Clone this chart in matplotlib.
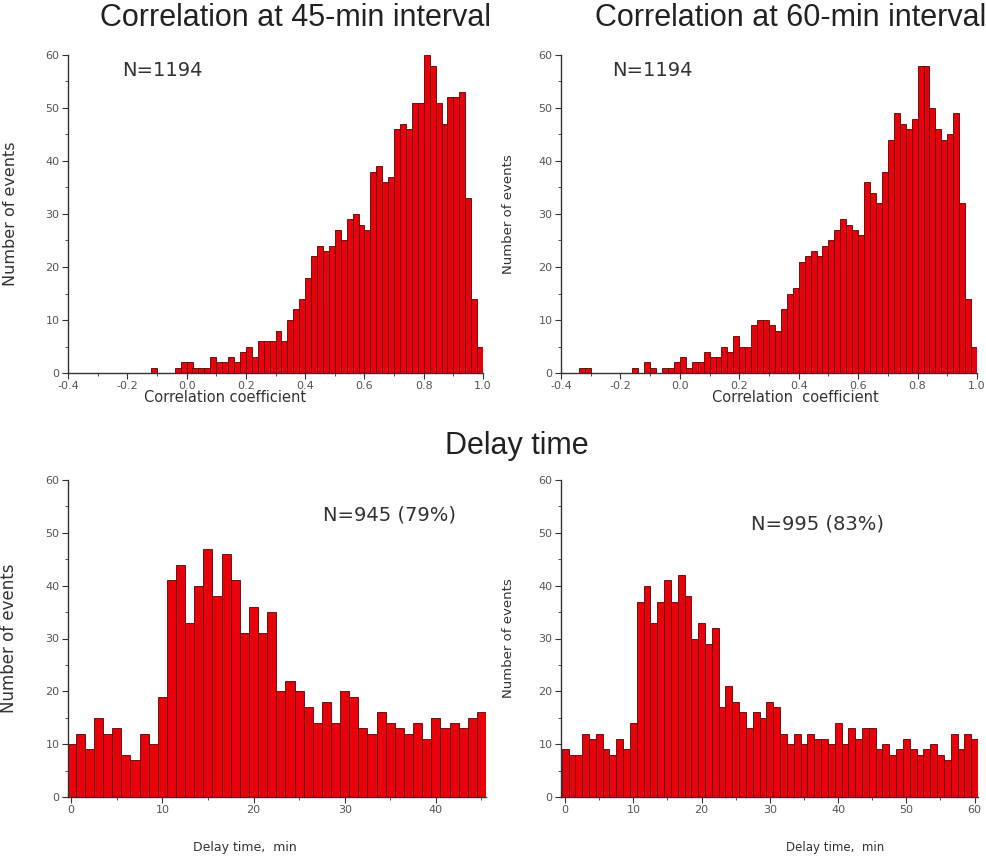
# -*- coding: utf-8 -*-

import matplotlib
matplotlib.use("Agg")
import matplotlib.pyplot as plt
import numpy as np
from matplotlib.ticker import MultipleLocator, FormatStrFormatter

plt.rcParams["font.family"] = ["DejaVu Sans"]
plt.rcParams["axes.unicode_minus"] = False

# correlation histograms: bins of 0.02 starting at -0.4
corr_start = -0.4
corr_width = 0.02
corr45_counts = [0, 0, 0, 0, 0, 0, 0, 0, 0, 0, 0, 0, 0, 0, 1, 0, 0, 0, 1, 2,
                 2, 1, 1, 1, 3, 2, 2, 3, 2, 4, 5, 3, 6, 6, 6, 8, 6, 10, 12, 14,
                 18, 22, 24, 23, 24, 27, 25, 29, 30, 28, 27, 38, 39, 36, 37, 46, 47, 46, 51, 51,
                 60, 58, 51, 47, 52, 52, 53, 33, 14, 5]
corr60_counts = [0, 0, 0, 1, 1, 0, 0, 0, 0, 0, 0, 0, 1, 0, 2, 1, 0, 1, 1, 2,
                 3, 1, 2, 2, 4, 3, 3, 5, 4, 7, 5, 5, 9, 10, 10, 9, 8, 12, 15, 16,
                 21, 22, 23, 22, 24, 25, 27, 29, 28, 27, 26, 36, 34, 32, 38, 44, 49, 47, 46, 48,
                 58, 58, 50, 46, 44, 45, 49, 32, 14, 5]

# delay time histograms: 1-min bins centred on whole minutes
delay45_counts = [10, 12, 9, 15, 12, 13, 8, 7, 12, 10, 19, 41, 44, 33, 40, 47, 38, 46, 41, 31,
                  36, 31, 35, 20, 22, 20, 17, 14, 18, 14, 20, 19, 13, 12, 16, 14, 13, 12, 14, 11,
                  15, 13, 14, 13, 15, 16]
delay60_counts = [9, 8, 8, 12, 11, 12, 9, 8, 11, 9, 14, 37, 40, 33, 37, 41, 37, 42, 38, 30,
                  33, 29, 32, 17, 21, 18, 16, 13, 16, 15, 18, 17, 12, 10, 12, 10, 12, 11, 11, 10,
                  14, 10, 13, 11, 13, 13, 9, 10, 8, 9, 11, 9, 8, 9, 10, 8, 7, 12, 9, 12, 11]

W, H = 987, 861
BAR_FACE = "#e8000a"
BAR_EDGE = "#5a0000"
TEXT_COL = "#333333"
TITLE_FONT = ["Liberation Sans", "DejaVu Sans"]


def px_axes(fig, left, top, right, bottom):
    """Add axes given pixel box of the reference picture"""
    return fig.add_axes([left / W, 1 - bottom / H, (right - left) / W, (bottom - top) / H])


def style_axes(ax):
    for side in ["top", "right"]:
        ax.spines[side].set_visible(False)
    for side in ["left", "bottom"]:
        ax.spines[side].set_color("#333333")
        ax.spines[side].set_linewidth(1.0)
    ax.tick_params(which="major", direction="out", length=4, width=0.8,
                   labelsize=8, colors="#333333", labelcolor="#555555", pad=2)
    ax.tick_params(which="minor", direction="out", length=2, width=0.6, colors="#333333")
    ax.set_ylim(0, 60)
    ax.yaxis.set_major_locator(MultipleLocator(10))
    ax.yaxis.set_minor_locator(MultipleLocator(5))


def plot_corr(ax, counts, ylabel_size, xlabel, xlab_x, ylab_x):
    lefts = corr_start + corr_width * np.arange(len(counts))
    ax.bar(lefts, counts, width=corr_width, align="edge",
           color=BAR_FACE, edgecolor=BAR_EDGE, linewidth=0.6)
    style_axes(ax)
    ax.set_xlim(-0.4, 1.0)
    ax.xaxis.set_major_locator(MultipleLocator(0.2))
    ax.xaxis.set_minor_locator(MultipleLocator(0.1))
    ax.xaxis.set_major_formatter(FormatStrFormatter("%.1f"))
    ax.set_xlabel(xlabel, fontsize=10.5, color=TEXT_COL)
    ax.xaxis.set_label_coords(xlab_x, -0.055)
    ax.set_ylabel("Number of events", fontsize=ylabel_size, color=TEXT_COL)
    ax.yaxis.set_label_coords(ylab_x, 0.5)


def plot_delay(ax, counts, xmin, xmax, xlabel_size, ylabel_size, xlab_x, ylab_x):
    centres = np.arange(len(counts))
    ax.bar(centres, counts, width=1.0, align="center",
           color=BAR_FACE, edgecolor=BAR_EDGE, linewidth=0.6)
    style_axes(ax)
    ax.set_xlim(xmin, xmax)
    ax.xaxis.set_major_locator(MultipleLocator(10))
    ax.xaxis.set_minor_locator(MultipleLocator(5))
    ax.set_xlabel("Delay time,  min", fontsize=xlabel_size, color=TEXT_COL)
    ax.xaxis.set_label_coords(xlab_x, -0.14)
    ax.set_ylabel("Number of events", fontsize=ylabel_size, color=TEXT_COL)
    ax.yaxis.set_label_coords(ylab_x, 0.5)


fig = plt.figure(figsize=(W / 100, H / 100), dpi=100)

ax1 = px_axes(fig, 68, 55, 483, 373)
plot_corr(ax1, corr45_counts, 11.5, "Correlation coefficient", 0.378, -0.12)
ax1.text(0.13, 0.95, "N=1194", transform=ax1.transAxes, fontsize=14, color=TEXT_COL,
         ha="left", va="center")

ax2 = px_axes(fig, 561, 55, 977, 373)
plot_corr(ax2, corr60_counts, 9.5, "Correlation  coefficient", 0.5625, -0.11)
ax2.text(0.123, 0.95, "N=1194", transform=ax2.transAxes, fontsize=14, color=TEXT_COL,
         ha="left", va="center")

ax3 = px_axes(fig, 68, 480, 486, 797)
plot_delay(ax3, delay45_counts, -0.35, 45.5, 9, 12, 0.423, -0.12)
ax3.text(0.61, 0.89, "N=945 (79%)", transform=ax3.transAxes, fontsize=14, color=TEXT_COL,
         ha="left", va="center")

ax4 = px_axes(fig, 561, 480, 978, 797)
plot_delay(ax4, delay60_counts, -0.6, 60.5, 8.5, 9.5, 0.657, -0.11)
ax4.text(0.455, 0.86, "N=995 (83%)", transform=ax4.transAxes, fontsize=14, color=TEXT_COL,
         ha="left", va="center")

fig.text(296 / W, 1 - 18 / H, "Correlation at 45-min interval", fontsize=22,
         family=TITLE_FONT, color="#222222", ha="center", va="center")
fig.text(791 / W, 1 - 18 / H, "Correlation at 60-min interval", fontsize=22,
         family=TITLE_FONT, color="#222222", ha="center", va="center")
fig.text(517 / W, 1 - 446 / H, "Delay time", fontsize=22,
         family=TITLE_FONT, color="#222222", ha="center", va="center")

plt.savefig("out.png", dpi=100)
plt.close()
